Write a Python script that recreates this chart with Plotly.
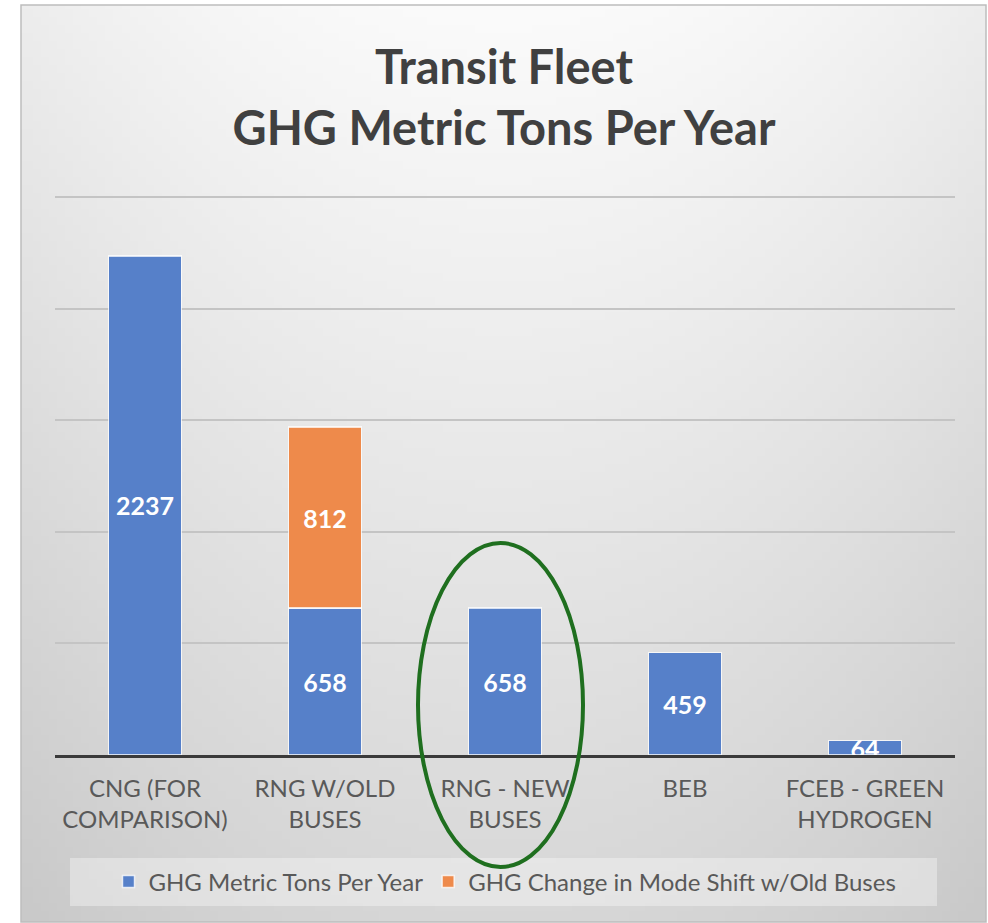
import base64, struct, zlib
import plotly.graph_objects as go

# ---- data ----
categories = ["CNG (FOR<br>COMPARISON)", "RNG W/OLD<br>BUSES", "RNG - NEW<br>BUSES", "BEB", "FCEB - GREEN<br>HYDROGEN"]
ghg_tons = [2237, 658, 658, 459, 64]
mode_shift = [None, 812, None, None, None]
series_names = ["GHG Metric Tons Per Year", "GHG Change in Mode Shift w/Old Buses"]
title_lines = ["Transit Fleet", "GHG Metric Tons Per Year"]

W, H = 988, 923
L, R, T, B = 55, 33, 195, 168
PW, PH = W - L - R, H - T - B


def px_x(p):
    return (p - L) / PW


def px_y(p):
    return (H - B - p) / PH


# ---- gradient background image (pure python PNG) ----
def make_png(w, h):
    rows = []
    for j in range(h):
        row = bytearray([0])
        dy = j / (h - 1)
        for i in range(w):
            dx = abs(i / (w - 1) - 0.5) * 2
            v = 251 - 36 * dy - 14 * dx * dx
            row.append(max(0, min(255, int(v))))
        rows.append(bytes(row))
    raw = b"".join(rows)

    def chunk(tag, data):
        c = struct.pack(">I", len(data)) + tag + data
        return c + struct.pack(">I", zlib.crc32(tag + data) & 0xffffffff)

    png = b"\x89PNG\r\n\x1a\n"
    png += chunk(b"IHDR", struct.pack(">IIBBBBB", w, h, 8, 0, 0, 0, 0))
    png += chunk(b"IDAT", zlib.compress(raw, 9))
    png += chunk(b"IEND", b"")
    return "data:image/png;base64," + base64.b64encode(png).decode()


bg = make_png(120, 115)

font_family = "Lato, 'Open Sans', sans-serif"
label_font = dict(family=font_family, size=25, color="white", weight="bold")

fig = go.Figure()
fig.add_trace(go.Bar(
    x=categories, y=ghg_tons, name=series_names[0],
    marker=dict(color="#5680C9", line=dict(color="rgba(255,255,255,0.75)", width=1.5)),
    text=[str(v) for v in ghg_tons], textposition="inside", insidetextanchor="middle",
    constraintext="none", textangle=0, textfont=label_font, cliponaxis=False,
))
fig.add_trace(go.Bar(
    x=categories, y=mode_shift, name=series_names[1],
    marker=dict(color="#EE8A4B", line=dict(color="rgba(255,255,255,0.75)", width=1.5)),
    text=[str(v) if v is not None else "" for v in mode_shift], textposition="inside",
    insidetextanchor="middle", constraintext="none", textangle=0, textfont=label_font,
    cliponaxis=False,
))

shapes = [
    # frame
    dict(type="rect", xref="paper", yref="paper",
         x0=px_x(21), x1=px_x(986), y0=px_y(922), y1=px_y(5),
         line=dict(color="#bdbdbd", width=1.5), fillcolor="rgba(0,0,0,0)", layer="below"),
    # legend box
    dict(type="rect", xref="paper", yref="paper",
         x0=px_x(70), x1=px_x(937), y0=px_y(906), y1=px_y(858),
         line=dict(width=0), fillcolor="rgba(255,255,255,0.35)", layer="below"),
    # green ellipse
    dict(type="circle", xref="paper", yref="paper",
         x0=px_x(418), x1=px_x(583), y0=px_y(867), y1=px_y(543),
         line=dict(color="#1F6F1F", width=4), fillcolor="rgba(0,0,0,0)", layer="above"),
]

fig.update_layout(
    width=W, height=H,
    margin=dict(l=L, r=R, t=T, b=B),
    barmode="stack", bargap=0.595,
    paper_bgcolor="white", plot_bgcolor="rgba(0,0,0,0)",
    font=dict(family=font_family, color="#595959"),
    title=dict(text="<br>".join(title_lines), x=504 / W, xanchor="center",
               y=1 - 84 / H, yanchor="middle",
               font=dict(family=font_family, size=47, color="#404040", weight="bold")),
    xaxis=dict(showgrid=False, showline=True, linecolor="#3a3a3a", linewidth=3,
               tickfont=dict(size=24, color="#595959"), ticks="", ticklabelstandoff=10,
               fixedrange=True),
    yaxis=dict(range=[0, 2510], dtick=500, showgrid=True, gridcolor="#c4c4c4", gridwidth=1.5,
               showticklabels=False, zeroline=False, ticks="", fixedrange=True),
    legend=dict(orientation="h", x=0.5, xanchor="center", y=px_y(882), yanchor="middle",
                bgcolor="rgba(0,0,0,0)", font=dict(size=24, color="#595959"), traceorder="normal",
                itemwidth=30),
    showlegend=True,
    shapes=shapes,
    images=[dict(source=bg, xref="paper", yref="paper", x=px_x(21), y=px_y(5),
                 sizex=px_x(986) - px_x(21), sizey=px_y(5) - px_y(922),
                 sizing="stretch", layer="below", xanchor="left", yanchor="top")],
)

fig.write_html("out.html", config={"displayModeBar": False},
               post_script="document.body.style.margin='0';document.body.style.overflow='hidden';")
